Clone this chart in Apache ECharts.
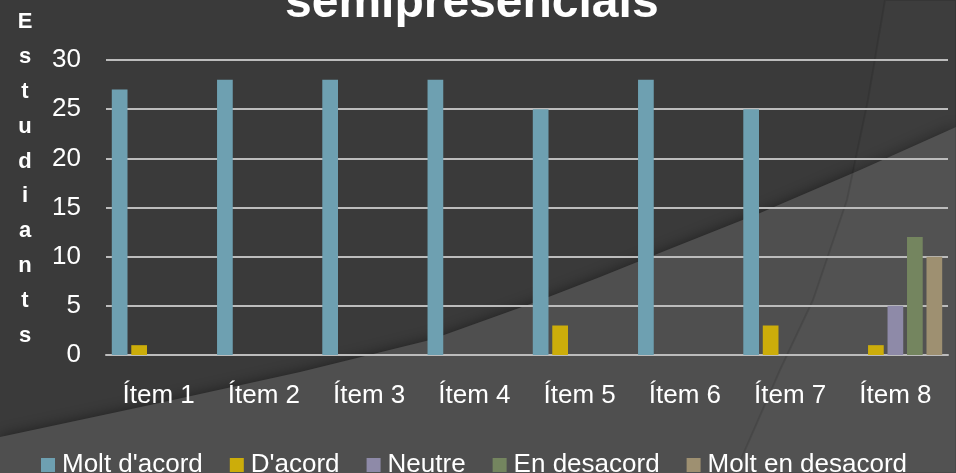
<!DOCTYPE html>
<html>
<head>
<meta charset="utf-8">
<script src="https://cdn.jsdelivr.net/npm/echarts@6/dist/echarts.min.js"></script>
<style>
  html, body { margin: 0; padding: 0; background: #3a3a3a; }
  #chart { width: 956px; height: 473px; }
</style>
</head>
<body>
<div id="chart"></div>
<script>
var items = ['Ítem 1', 'Ítem 2', 'Ítem 3', 'Ítem 4', 'Ítem 5', 'Ítem 6', 'Ítem 7', 'Ítem 8']
var seriesNames = ["Molt d'acord", "D'acord", 'Neutre', 'En desacord', 'Molt en desacord']
var moltDacord = [27, 28, 28, 28, 25, 28, 25, 0]
var dacord = [1, 0, 0, 0, 3, 0, 3, 1]
var neutre = [0, 0, 0, 0, 0, 0, 0, 5]
var enDesacord = [0, 0, 0, 0, 0, 0, 0, 12]
var moltEnDesacord = [0, 0, 0, 0, 0, 0, 0, 10]
var colors = ['#6ea0b1', '#ccad0a', '#8e8aa8', '#74855f', '#9e9071']

var font = "'Liberation Sans', Arial, sans-serif"
var chart = echarts.init(document.getElementById('chart'), null, { renderer: 'canvas' })

var allData = [moltDacord, dacord, neutre, enDesacord, moltEnDesacord]
var series = []
for (var i = 0; i < seriesNames.length; i++) {
    series.push({
        name: seriesNames[i],
        type: 'bar',
        barGap: '24%',
        barCategoryGap: '11%',
        itemStyle: { color: colors[i] },
        data: allData[i]
    })
}

chart.setOption({
    backgroundColor: '#3a3a3a',
    animation: false,
    color: colors,
    textStyle: { fontFamily: font },
    graphic: [
        {
            // lighter lower-right swoosh
            type: 'polygon',
            z: -10,
            shape: {
                points: [[0, 437], [150, 405], [300, 372], [430, 340], [533, 303], [600, 277],
                    [667, 250], [760, 213], [860, 170], [956, 127], [956, 473], [0, 473]]
            },
            style: { fill: '#4f4f4f', shadowColor: 'rgba(0,0,0,0.45)', shadowBlur: 14 }
        },
        {
            type: 'polygon',
            z: -9,
            shape: {
                points: [[885, 0], [868, 100], [847, 200], [813, 300], [780, 370], [735, 473], [956, 473], [956, 0]]
            },
            style: { fill: 'rgba(255,255,255,0.02)', stroke: 'rgba(0,0,0,0.1)', lineWidth: 2 }
        },
        {
            // vertical axis title, one letter per line
            type: 'text',
            x: 25,
            y: 179,
            style: {
                text: 'E\ns\nt\nu\nd\ni\na\nn\nt\ns',
                fill: '#ffffff',
                font: 'bold 22px ' + font,
                lineHeight: 34.8,
                align: 'center',
                verticalAlign: 'middle'
            }
        }
    ],
    title: {
        text: 'semipresencials',
        left: 285,
        top: -20,
        padding: 0,
        textStyle: { color: '#ffffff', fontSize: 48, fontWeight: 'bold', fontFamily: font }
    },
    legend: {
        data: seriesNames,
        left: 41,
        top: 452,
        padding: 0,
        itemWidth: 14,
        itemHeight: 14,
        itemGap: 27,
        icon: 'rect',
        textStyle: { color: '#ffffff', fontSize: 26, fontFamily: font, padding: [0, 0, 0, 2] }
    },
    grid: {
        left: 106,
        right: 8,
        top: 60,
        bottom: 118,
        containLabel: false,
        outerBoundsMode: 'none'
    },
    xAxis: {
        type: 'category',
        data: items,
        axisLine: { show: true, lineStyle: { color: '#bcbcbc', width: 2 } },
        axisTick: { show: false },
        axisLabel: { color: '#ffffff', fontSize: 26, margin: 28, fontFamily: font }
    },
    yAxis: {
        type: 'value',
        min: 0,
        max: 30,
        interval: 5,
        axisLine: { show: false },
        axisTick: { show: false },
        axisLabel: { color: '#ffffff', fontSize: 26, margin: 25, fontFamily: font },
        splitLine: { lineStyle: { color: '#bcbcbc', width: 2 } }
    },
    series: series
})
</script>
</body>
</html>
